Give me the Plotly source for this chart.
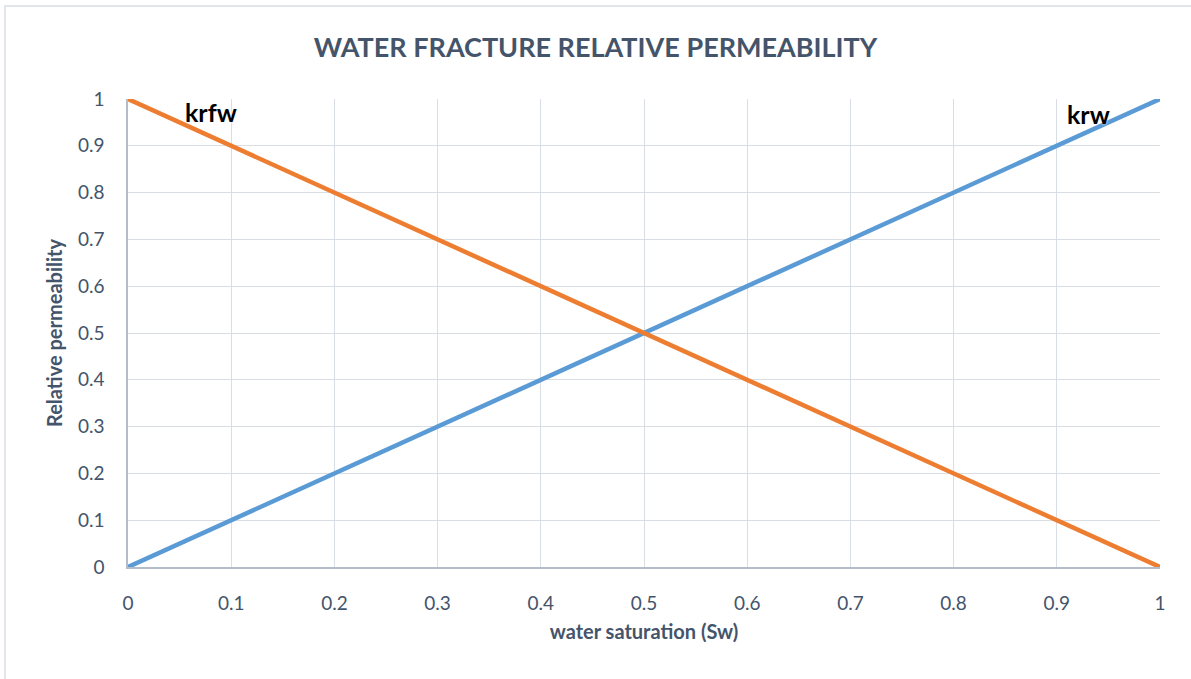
import plotly.graph_objects as go

# Water saturation and relative permeability curves
sw = [0, 0.1, 0.2, 0.3, 0.4, 0.5, 0.6, 0.7, 0.8, 0.9, 1]
krw = [0, 0.1, 0.2, 0.3, 0.4, 0.5, 0.6, 0.7, 0.8, 0.9, 1]
krfw = [1, 0.9, 0.8, 0.7, 0.6, 0.5, 0.4, 0.3, 0.2, 0.1, 0]

x_ticks = [0, 0.1, 0.2, 0.3, 0.4, 0.5, 0.6, 0.7, 0.8, 0.9, 1]
x_tick_text = ["0", "0.1", "0.2", "0.3", "0.4", "0.5", "0.6", "0.7", "0.8", "0.9", "1"]
y_ticks = [0, 0.1, 0.2, 0.3, 0.4, 0.5, 0.6, 0.7, 0.8, 0.9, 1]
y_tick_text = ["0", "0.1", "0.2", "0.3", "0.4", "0.5", "0.6", "0.7", "0.8", "0.9", "1"]

FONT = "Lato, 'Open Sans', sans-serif"
TEXT = "#44546A"

fig = go.Figure()
fig.add_trace(go.Scatter(x=sw, y=krw, mode="lines", name="krw",
                         line=dict(color="#5B9BD5", width=4.5)))
fig.add_trace(go.Scatter(x=sw, y=krfw, mode="lines", name="krfw",
                         line=dict(color="#ED7D31", width=4.5)))

# Curve labels
label_font = dict(family=FONT, size=25, color="#000000",
                  shadow="0px 0px 3px white")
fig.add_annotation(x=0.08, y=0.972, text="<b>krfw</b>", showarrow=False,
                   font=label_font)
fig.add_annotation(x=0.931, y=0.968, text="<b>krw</b>", showarrow=False,
                   font=label_font)

# Chart frame
fig.add_shape(type="rect", xref="paper", yref="paper",
              x0=-0.1192, x1=1.06, y0=-0.3, y1=1.1987,
              line=dict(color="#D9DEE5", width=1.5), layer="below")

fig.update_layout(
    width=1191, height=679,
    margin=dict(l=128, r=31, t=99, b=112),
    paper_bgcolor="white", plot_bgcolor="white",
    showlegend=False,
    title=dict(text="<b>WATER FRACTURE RELATIVE PERMEABILITY</b>",
               x=0.5, xanchor="center", y=0.93, yanchor="middle",
               font=dict(family=FONT, size=27, color=TEXT)),
    font=dict(family=FONT, color=TEXT),
)

fig.update_xaxes(
    range=[0, 1], tickvals=x_ticks, ticktext=x_tick_text,
    showgrid=True, gridcolor="#D9DEE5", gridwidth=1,
    showline=True, linecolor="#B4BCC8", linewidth=1.5,
    zeroline=False, ticks="outside", ticklen=18, tickcolor="rgba(0,0,0,0)",
    tickfont=dict(size=19, color=TEXT),
    title=dict(text="<b>water saturation (Sw)</b>", standoff=12,
               font=dict(size=20, color=TEXT)),
)
fig.update_yaxes(
    range=[0, 1], tickvals=y_ticks, ticktext=y_tick_text,
    showgrid=True, gridcolor="#D9DEE5", gridwidth=1,
    showline=True, linecolor="#B4BCC8", linewidth=1.5,
    zeroline=False, ticks="outside", ticklen=18, tickcolor="rgba(0,0,0,0)",
    tickfont=dict(size=19, color=TEXT),
    title=dict(text="<b>Relative permeability</b>", standoff=10,
               font=dict(size=20, color=TEXT)),
)

fig.write_html("out.html")
